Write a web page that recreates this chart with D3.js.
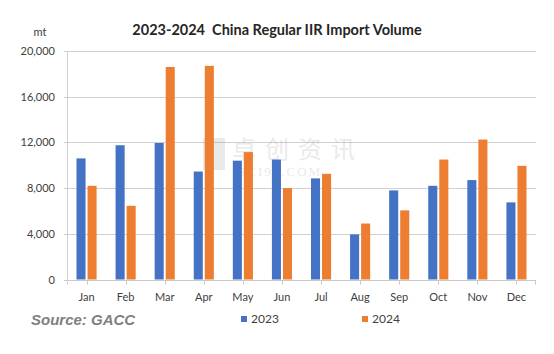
<!DOCTYPE html>
<html>
<head>
<meta charset="utf-8">
<script src="https://cdn.jsdelivr.net/npm/d3@7/dist/d3.min.js"></script>
<style>
  body { margin: 0; background: #fff; }
  svg { display: block; font-family: Lato, "Open Sans", sans-serif; }
</style>
</head>
<body>
<svg id="chart" width="554" height="354"></svg>
<script>
// data
const months = ["Jan", "Feb", "Mar", "Apr", "May", "Jun", "Jul", "Aug", "Sep", "Oct", "Nov", "Dec"];
const years = ["2023", "2024"];
const vol2023 = [10600, 11750, 11950, 9450, 10400, 10500, 8850, 3950, 7800, 8200, 8700, 6750];
const vol2024 = [8200, 6450, 18600, 18700, 11150, 8000, 9250, 4900, 6050, 10500, 12250, 9950];
const yTicks = [0, 4000, 8000, 12000, 16000, 20000];
const colors = ["#4472C4", "#ED7D31"];

const svg = d3.select("#chart");
const margin = { left: 67, right: 18, top: 51, bottom: 74 };
const W = 554, H = 354;

const x = d3.scaleBand().domain(months).range([margin.left, W - margin.right]);
const xIn = d3.scaleBand().domain(years).range([0, x.bandwidth()]).paddingInner(0.18).paddingOuter(0.86);
const y = d3.scaleLinear().domain([0, 20000]).range([H - margin.bottom - 0.5, margin.top]);

// gridlines
svg.append("g")
  .selectAll("line")
  .data(yTicks.slice(1))
  .join("line")
  .attr("x1", margin.left - 3).attr("x2", W - margin.right)
  .attr("y1", d => Math.round(y(d)) + 0.5).attr("y2", d => Math.round(y(d)) + 0.5)
  .attr("stroke", "#d0d0d0");

// y labels
svg.append("g")
  .selectAll("text")
  .data(yTicks)
  .join("text")
  .attr("x", 55).attr("y", d => y(d) + 4)
  .attr("text-anchor", "end")
  .attr("font-size", 11).attr("fill", "#404040")
  .text(d => d3.format(",")(d));

svg.append("text").attr("x", 40).attr("y", 36).attr("text-anchor", "middle")
  .attr("font-size", 11).attr("fill", "#404040").text("mt");

// watermark
const wm = svg.append("g").attr("opacity", 0.16).attr("fill", "#808080");
wm.append("rect").attr("x", 203).attr("y", 138).attr("width", 22).attr("height", 32);
wm.append("text").attr("x", 232).attr("y", 158).attr("font-size", 24)
  .attr("font-family", "Noto Sans CJK SC").attr("letter-spacing", 9).text("卓创资讯");
wm.append("text").attr("x", 238).attr("y", 176).attr("font-size", 13)
  .attr("font-family", "Liberation Serif").attr("letter-spacing", 2).text("SCI99.COM");

// bars
const series = [vol2023, vol2024];
series.forEach((vals, si) => {
  svg.append("g")
    .selectAll("rect")
    .data(vals)
    .join("rect")
    .attr("x", (d, i) => x(months[i]) + xIn(years[si]))
    .attr("width", xIn.bandwidth())
    .attr("y", d => y(d))
    .attr("height", d => y(0) - y(d))
    .attr("fill", colors[si]);
});

// x axis line and ticks
const y0 = Math.round(y(0)) + 0.5;
svg.append("line").attr("x1", margin.left - 3).attr("x2", W - margin.right)
  .attr("y1", y0).attr("y2", y0).attr("stroke", "#c8c8c8");
svg.append("line").attr("x1", margin.left + 0.5).attr("x2", margin.left + 0.5)
  .attr("y1", y(20000)).attr("y2", y0 + 4).attr("stroke", "#d0d0d0");
svg.append("g")
  .selectAll("line")
  .data(months)
  .join("line")
  .attr("x1", d => Math.round(x(d) + x.bandwidth() / 2) + 0.5)
  .attr("x2", d => Math.round(x(d) + x.bandwidth() / 2) + 0.5)
  .attr("y1", y0).attr("y2", y0 + 4)
  .attr("stroke", "#c8c8c8");
svg.append("line").attr("x1", W - margin.right - 0.5).attr("x2", W - margin.right - 0.5)
  .attr("y1", y0).attr("y2", y0 + 4).attr("stroke", "#c8c8c8");

svg.append("g")
  .selectAll("text")
  .data(months)
  .join("text")
  .attr("x", d => x(d) + x.bandwidth() / 2)
  .attr("y", 301)
  .attr("text-anchor", "middle")
  .attr("font-size", 11).attr("fill", "#404040")
  .text(d => d);

// title
svg.append("text").attr("x", 277).attr("y", 35).attr("text-anchor", "middle")
  .attr("font-size", 14.5).attr("font-weight", "bold").attr("fill", "#262626")
  .attr("xml:space", "preserve").style("white-space", "pre")
  .text("2023-2024  China Regular IIR Import Volume");

// source
svg.append("text").attr("x", 31).attr("y", 325)
  .attr("font-family", "Liberation Sans").attr("font-size", 15)
  .attr("font-weight", "bold").attr("font-style", "italic").attr("fill", "#7f7f7f")
  .text("Source: GACC");

// legend
const legX = [241, 362];
years.forEach((yr, i) => {
  svg.append("rect").attr("x", legX[i]).attr("y", 316).attr("width", 6).attr("height", 6)
    .attr("fill", colors[i]);
  svg.append("text").attr("x", legX[i] + 10).attr("y", 323)
    .attr("font-size", 12).attr("fill", "#404040").text(yr);
});
</script>
</body>
</html>
